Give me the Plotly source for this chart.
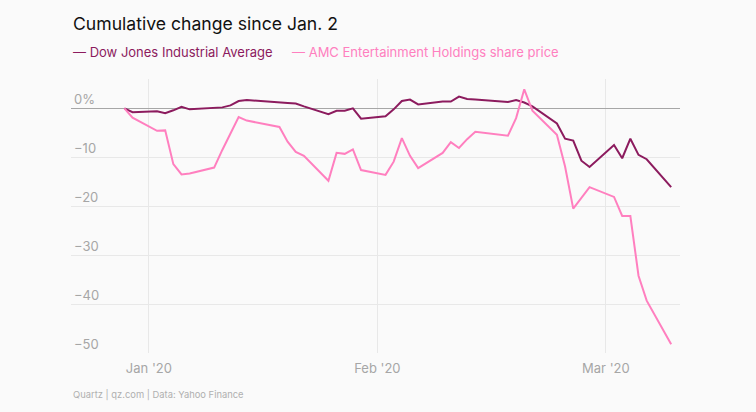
import plotly.graph_objects as go

dates = [
    "2020-01-02", "2020-01-03", "2020-01-06", "2020-01-07", "2020-01-08", "2020-01-09",
    "2020-01-10", "2020-01-13", "2020-01-14", "2020-01-15", "2020-01-16", "2020-01-17",
    "2020-01-21", "2020-01-22", "2020-01-23", "2020-01-24", "2020-01-27", "2020-01-28",
    "2020-01-29", "2020-01-30", "2020-01-31",
    "2020-02-03", "2020-02-04", "2020-02-05", "2020-02-06", "2020-02-07", "2020-02-10",
    "2020-02-11", "2020-02-12", "2020-02-13", "2020-02-14", "2020-02-18", "2020-02-19",
    "2020-02-20", "2020-02-21", "2020-02-24", "2020-02-25", "2020-02-26", "2020-02-27",
    "2020-02-28",
    "2020-03-02", "2020-03-03", "2020-03-04", "2020-03-05", "2020-03-06", "2020-03-09",
]

dow = [
    0.0, -0.8, -0.6, -1.0, -0.4, 0.3, -0.2, 0.1, 0.2, 0.6, 1.5, 1.7,
    1.1, 1.1, 1.0, 0.4, -1.2, -0.5, -0.5, 0.0, -2.1,
    -1.6, -0.2, 1.5, 1.8, 0.8, 1.4, 1.4, 2.4, 1.9, 1.8, 1.3, 1.7,
    1.2, 0.4, -3.1, -6.2, -6.6, -10.7, -12.0,
    -7.5, -10.2, -6.2, -9.5, -10.4, -16.1,
]

amc = [
    0.0, -1.9, -4.6, -4.5, -11.4, -13.5, -13.3, -12.1, -8.5, -5.0, -1.8, -2.5,
    -3.8, -6.8, -8.9, -9.7, -14.8, -9.1, -9.3, -8.4, -12.6,
    -13.6, -10.9, -6.1, -9.7, -12.2, -9.1, -6.9, -8.1, -6.3, -4.8, -5.6, -2.0,
    3.9, -0.5, -5.4, -11.9, -20.5, -18.3, -16.1,
    -18.1, -22.0, -22.0, -34.2, -39.3, -48.2,
]

series_names = ["Dow Jones Industrial Average", "AMC Entertainment Holdings share price"]
series_colors = ["#8c1b5e", "#ff7fbf"]

y_tickvals = [0, -10, -20, -30, -40, -50]
y_ticktext = ["0%", "\u221210", "\u221220", "\u221230", "\u221240", "\u221250"]
x_tickvals = ["2020-01-05", "2020-02-02", "2020-03-01"]
x_ticktext = ["Jan '20", "Feb '20", "Mar '20"]

title_text = "Cumulative change since Jan. 2"
source_text = "Quartz | qz.com | Data: Yahoo Finance"

FONT = "Inter"
BG = "#fafafa"
W, H = 756, 412
ML, MR, MT, MB = 71, 76, 79, 59

fig = go.Figure()
for name, vals, color in zip(series_names, [dow, amc], series_colors):
    fig.add_trace(go.Scatter(
        x=dates, y=vals, mode="lines", name=name,
        line=dict(color=color, width=2), showlegend=False,
        hoverinfo="skip",
    ))

fig.update_layout(
    width=W, height=H,
    margin=dict(l=ML, r=MR, t=MT, b=MB, autoexpand=False),
    paper_bgcolor=BG, plot_bgcolor=BG,
    font=dict(family=FONT, color="#a6a6a6", size=13),
    xaxis=dict(
        type="date",
        range=["2019-12-26 11:00", "2020-03-10 02:00"],
        tickvals=x_tickvals, ticktext=x_ticktext,
        showgrid=True, gridcolor="#e8e8e8", gridwidth=1,
        showline=False, zeroline=False, ticks="",
        tickfont=dict(family=FONT, size=13, color="#a6a6a6"),
        ticklabelstandoff=6,
        automargin=False,
    ),
    yaxis=dict(
        range=[-50, 6],
        tickvals=y_tickvals, ticktext=y_ticktext,
        showgrid=True, gridcolor="#e8e8e8", gridwidth=1,
        zeroline=True, zerolinecolor="#a6a6a6", zerolinewidth=1,
        showline=False, ticks="",
        ticklabelposition="inside", ticklabelshift=-9,
        ticklabelstandoff=0,
        tickfont=dict(family=FONT, size=13, color="#a6a6a6"),
        automargin=False,
    ),
)

plot_w = W - ML - MR
plot_h = H - MT - MB


def px_to_paper(px, py):
    return (px - ML) / plot_w, (H - MB - py) / plot_h


tx, ty = px_to_paper(71, 24)
fig.add_annotation(text=title_text, x=tx, y=ty, xref="paper", yref="paper",
                   xanchor="left", yanchor="middle", showarrow=False,
                   font=dict(family=FONT, size=17.6, color="#111111"))
sx, sy = px_to_paper(71, 395)
fig.add_annotation(text=source_text, x=sx, y=sy, xref="paper", yref="paper",
                   xanchor="left", yanchor="middle", showarrow=False,
                   font=dict(family=FONT, size=9.4, color="#b0b0b0"))

legend_x = [71, 290]
for name, color, lx in zip(series_names, series_colors, legend_x):
    ax, ay = px_to_paper(lx, 52)
    fig.add_annotation(text="\u2014 " + name, x=ax, y=ay, xref="paper", yref="paper",
                       xanchor="left", yanchor="middle", showarrow=False,
                       font=dict(family=FONT, size=13, color=color))

fig.write_html(
    "out.html",
    config={"displayModeBar": False},
    post_script="document.body.style.margin='0';document.body.style.background='#fafafa';",
)
